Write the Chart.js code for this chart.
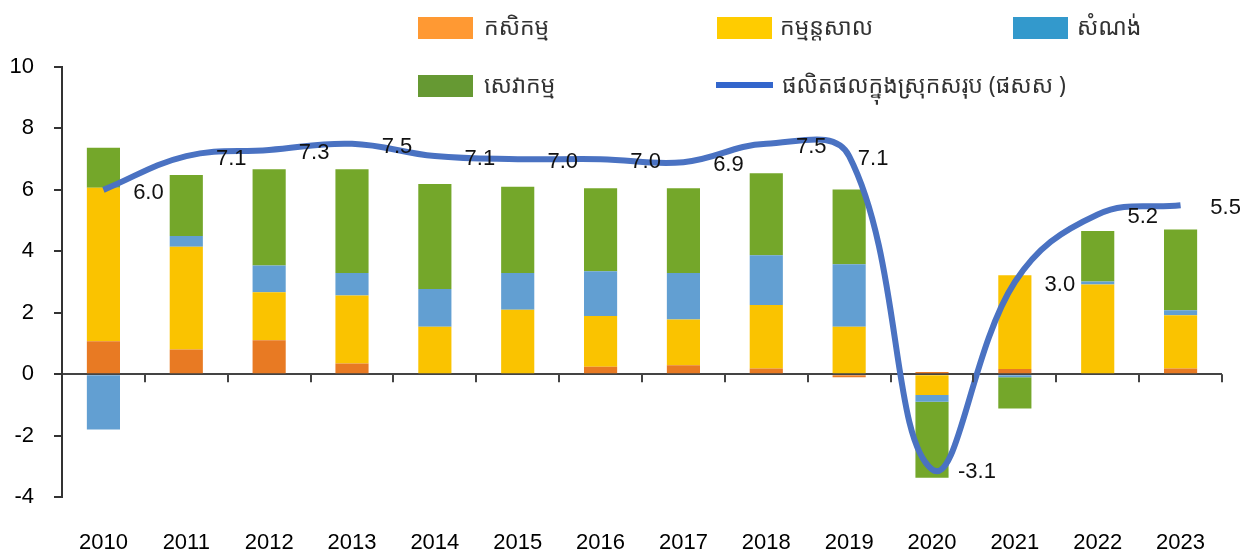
<!DOCTYPE html>
<html>
<head>
<meta charset="utf-8">
<script src="https://cdn.jsdelivr.net/npm/chart.js@4/dist/chart.umd.min.js"></script>
<style>
html, body { margin: 0; padding: 0; background: #fff; }
#wrap { width: 1240px; height: 553px; position: relative; }
</style>
</head>
<body>
<div id="wrap"><canvas id="chart" width="1240" height="553"></canvas></div>
<script>
// ទិន្នន័យ
var years = ["2010","2011","2012","2013","2014","2015","2016","2017","2018","2019","2020","2021","2022","2023"];
var kasekam   = [1.07, 0.8, 1.1, 0.35, 0, 0, 0.24, 0.29, 0.18, -0.1, 0.07, 0.17, 0, 0.18];
var oksahakam = [5.0, 3.35, 1.57, 2.21, 1.54, 2.1, 1.65, 1.49, 2.07, 1.54, -0.68, 3.05, 2.92, 1.74];
var somnong   = [-1.8, 0.35, 0.87, 0.73, 1.23, 1.19, 1.46, 1.51, 1.62, 2.04, -0.22, -0.1, 0.1, 0.16];
var sevakam   = [1.3, 1.98, 3.13, 3.38, 3.42, 2.81, 2.7, 2.76, 2.67, 2.43, -2.47, -1.02, 1.64, 2.63];
var gdp       = [6.0, 7.1, 7.3, 7.5, 7.1, 7.0, 7.0, 6.9, 7.5, 7.1, -3.1, 3.0, 5.2, 5.5];
var yTicks    = [-4, -2, 0, 2, 4, 6, 8, 10];

var khmerFont = "'Noto Sans Khmer', 'Khmer OS', 'Noto Sans', sans-serif";
var numFont = "'Liberation Sans', Arial, sans-serif";

// legend in two rows, drawn by hand
var legendPlugin = {
    id: "gridLegend",
    afterDraw: function (chart) {
        var ctx = chart.ctx;
        var items = [
            {text: "កសិកម្ម", color: "#FF9933", x: 418, y: 28, gap: 10, type: "box"},
            {text: "កម្មន្តសាល", color: "#FFCC00", x: 717, y: 28, gap: 7, type: "box"},
            {text: "សំណង់", color: "#3399CC", x: 1013, y: 28, gap: 8, type: "box"},
            {text: "សេវាកម្ម", color: "#669933", x: 418, y: 86, gap: 10, type: "box"},
            {text: "ផលិតផលក្នុងស្រុកសរុប (ផសស )", color: "#3366CC", x: 716, y: 86, gap: 10, type: "line"}
        ];
        ctx.save();
        ctx.font = "23px " + khmerFont;
        ctx.textBaseline = "middle";
        items.forEach(function (it) {
            ctx.fillStyle = it.color;
            if (it.type == "box") {
                ctx.fillRect(it.x, it.y - 11, 55, 22);
            } else {
                ctx.fillRect(it.x, it.y - 4, 57, 6);
            }
            ctx.fillStyle = "#333";
            ctx.fillText(it.text, it.x + 56 + it.gap, it.y);
        });
        ctx.restore();
    }
};

// value labels to the right of the line points
var valueLabels = {
    id: "valueLabels",
    afterDatasetsDraw: function (chart) {
        var ctx = chart.ctx;
        var meta = chart.getDatasetMeta(4);
        ctx.save();
        ctx.font = "22px " + numFont;
        ctx.fillStyle = "#111";
        ctx.textAlign = "center";
        ctx.textBaseline = "middle";
        meta.data.forEach(function (pt, i) {
            var dx = (i == 9) ? 24 : 45; // 2019 label sits closer in the original
            ctx.fillText(gdp[i].toFixed(1), pt.x + dx, pt.y + 3);
        });
        ctx.restore();
    }
};

// little tick marks under the zero line, between years
var zeroTicks = {
    id: "zeroTicks",
    afterDatasetsDraw: function (chart) {
        var ctx = chart.ctx;
        var x = chart.scales.x, y = chart.scales.y;
        var y0 = y.getPixelForValue(0);
        var step = x.getPixelForValue(1) - x.getPixelForValue(0);
        ctx.save();
        ctx.strokeStyle = "#444";
        ctx.lineWidth = 2;
        for (var i = 1; i <= years.length; i++) {
            var px = Math.round(x.getPixelForValue(i) - step / 2);
            ctx.beginPath();
            ctx.moveTo(px, y0);
            ctx.lineTo(px, y0 + 8);
            ctx.stroke();
        }
        ctx.restore();
    }
};

function barSet(label, data, color) {
    return {
        type: "bar",
        label: label,
        data: data,
        backgroundColor: color,
        borderWidth: 0,
        stack: "parts",
        order: 1,
        barPercentage: 0.4,
        categoryPercentage: 1
    };
}

var ctx = document.getElementById("chart").getContext("2d");
var chart = new Chart(ctx, {
    data: {
        labels: years,
        datasets: [
            barSet("កសិកម្ម", kasekam, "#E87A23"),
            barSet("កម្មន្តសាល", oksahakam, "#FAC300"),
            barSet("សំណង់", somnong, "#629FD2"),
            barSet("សេវាកម្ម", sevakam, "#74A72A"),
            {
                type: "line",
                label: "ផលិតផលក្នុងស្រុកសរុប (ផសស )",
                data: gdp,
                borderColor: "#4A72C2",
                borderWidth: 6,
                pointRadius: 0,
                tension: 0.4,
                stack: "gdp",
                order: 0
            }
        ]
    },
    options: {
        responsive: false,
        animation: false,
        layout: {
            padding: {top: 67, right: 18, left: 0, bottom: 0}
        },
        plugins: {
            legend: {display: false},
            tooltip: {enabled: false}
        },
        scales: {
            x: {
                stacked: true,
                grid: {display: false, drawTicks: false},
                border: {display: false},
                ticks: {
                    color: "#000",
                    padding: 33,
                    maxRotation: 0,
                    autoSkip: false,
                    font: {family: numFont, size: 22}
                },
                afterFit: function (scale) { scale.height = 56; }
            },
            y: {
                stacked: true,
                min: -4,
                max: 10,
                afterBuildTicks: function (scale) {
                    scale.ticks = yTicks.map(function (v) { return {value: v}; });
                },
                border: {display: true, color: "#333", width: 2},
                grid: {
                    color: function (c) { return c.tick && c.tick.value === 0 ? "#444" : "rgba(0,0,0,0)"; },
                    lineWidth: 2,
                    tickColor: "#333",
                    tickLength: 8
                },
                ticks: {
                    color: "#000",
                    padding: 20,
                    font: {family: numFont, size: 22}
                },
                afterFit: function (scale) { scale.width = 62; }
            }
        }
    },
    plugins: [legendPlugin, zeroTicks, valueLabels]
});
</script>
</body>
</html>
